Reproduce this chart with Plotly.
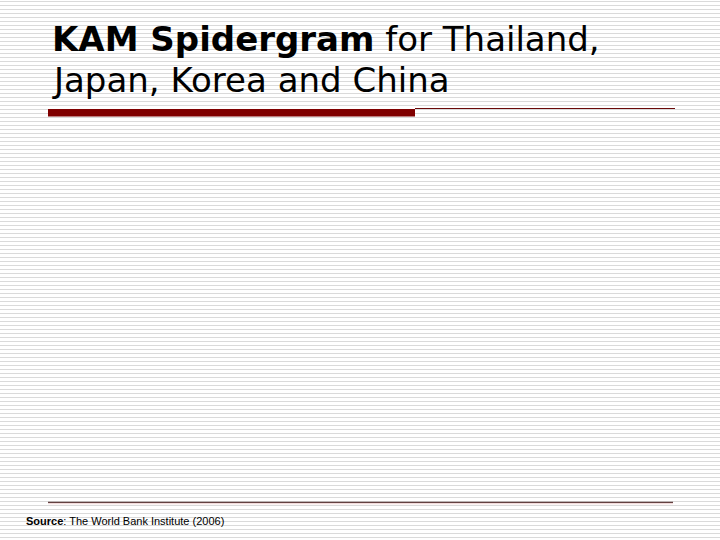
import plotly.graph_objects as go

W, H = 720, 540

countries = ["Thailand", "Japan", "Korea", "China"]
title_bold = "KAM Spidergram"
source_label = "Source"
source_name = "The World Bank Institute (2006)"


def px(x):
    return x / W


def py(y):
    return 1 - y / H


fig = go.Figure()

# striped slide background, one path for all the thin grey lines
path = ""
for y in range(1, H, 4):
    path += f"M0,{py(y + 0.5):.5f} L1,{py(y + 0.5):.5f} "
fig.add_shape(type="path", path=path, xref="paper", yref="paper",
              line=dict(color="#dadada", width=1), layer="below")

# thick red bar + thin line under the title
fig.add_shape(type="rect", xref="paper", yref="paper",
              x0=px(48), x1=px(415), y0=py(109), y1=py(116.5),
              fillcolor="#800000", line_width=0)
fig.add_shape(type="line", xref="paper", yref="paper",
              x0=px(415), x1=px(675), y0=py(108.5), y1=py(108.5),
              line=dict(color="#6b0a0a", width=1))

# bottom rule with its pale shadow
fig.add_shape(type="line", xref="paper", yref="paper",
              x0=px(48), x1=px(673), y0=py(503.5), y1=py(503.5),
              line=dict(color="#f2dcdc", width=1.5))
fig.add_shape(type="line", xref="paper", yref="paper",
              x0=px(48), x1=px(673), y0=py(502.3), y1=py(502.3),
              line=dict(color="#3c1414", width=1))

title_font = dict(family="DejaVu Sans", size=34, color="#000000")
fig.add_annotation(text=f"<b>{title_bold}</b> for {countries[0]},",
                   xref="paper", yref="paper",
                   x=px(50), y=py(17), xanchor="left", yanchor="top",
                   align="left", showarrow=False, font=title_font)
fig.add_annotation(text=f"{countries[1]}, {countries[2]} and {countries[3]}",
                   xref="paper", yref="paper",
                   x=px(50), y=py(58), xanchor="left", yanchor="top",
                   align="left", showarrow=False, font=title_font)

fig.add_annotation(text=f"<b>{source_label}</b>: {source_name}",
                   xref="paper", yref="paper",
                   x=px(24), y=py(521), xanchor="left", yanchor="middle",
                   showarrow=False,
                   font=dict(family="Liberation Sans", size=11, color="#000000"))

fig.update_layout(
    width=W, height=H,
    margin=dict(l=0, r=0, t=0, b=0),
    paper_bgcolor="#ffffff", plot_bgcolor="rgba(0,0,0,0)",
    xaxis=dict(visible=False, range=[0, 1]),
    yaxis=dict(visible=False, range=[0, 1]),
    showlegend=False,
)

# the page body has a default 8px margin; drop it so the slide fills the window
fig.write_html("out.html", config={"displayModeBar": False},
               post_script="document.body.style.margin='0';")
